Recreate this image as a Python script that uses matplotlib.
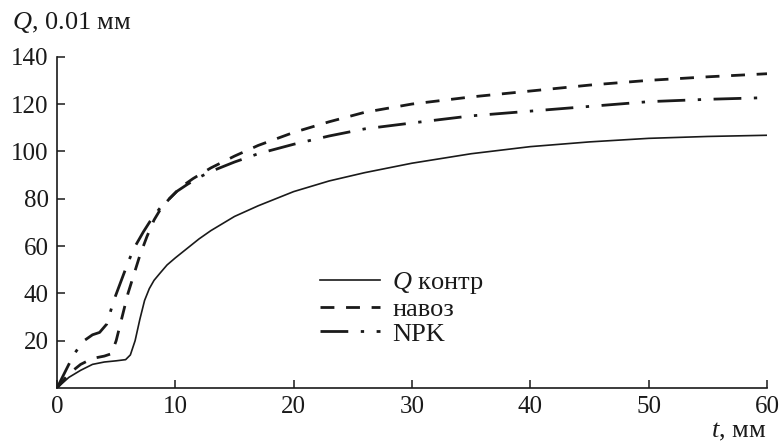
import matplotlib
matplotlib.use("Agg")
import matplotlib.pyplot as plt

plt.rcParams['font.family'] = ['Liberation Serif', 'DejaVu Serif']
plt.rcParams['mathtext.fontset'] = 'custom'
plt.rcParams['mathtext.rm'] = 'Liberation Serif'
plt.rcParams['mathtext.it'] = 'Liberation Serif:italic'

ctrl_x = [0, 1, 2, 3, 4, 5, 5.8, 6.2, 6.6, 7.0, 7.4, 7.8, 8.2, 8.7, 9.3, 10, 11, 12, 13, 14, 15, 17, 20, 23, 26, 30, 35, 40, 45, 50, 55, 60]
ctrl_y = [0, 4.5, 7.5, 10, 11, 11.5, 12, 14, 20, 29, 37, 42, 45.5, 48.5, 52, 55, 59, 63, 66.5, 69.5, 72.5, 77, 83, 87.5, 91, 95, 99, 102, 104, 105.5, 106.3, 106.8]

manure_x = [0, 1, 2, 3, 4, 4.6, 5.0, 5.5, 6.0, 6.5, 7.0, 7.6, 8.2, 8.8, 9.5, 10.5, 11.5, 13, 15, 17, 20, 23, 26, 30, 35, 40, 45, 50, 55, 60]
manure_y = [0, 6, 10, 12.5, 13.5, 14.5, 20, 30, 40, 48, 56, 64, 71, 76, 80, 85, 88.5, 93, 98, 102.5, 108, 112.5, 116.5, 120, 123, 125.5, 128, 130, 131.5, 132.8]

npk_x = [0, 0.7, 1.4, 2.2, 3.0, 3.6, 4.2, 4.8, 5.4, 6.0, 6.5, 7.3, 8.0, 8.7, 9.5, 10.1, 11, 12, 13, 15, 17, 20, 23, 26, 30, 35, 40, 45, 50, 55, 60]
npk_y = [0, 7, 14, 19.7, 22.5, 23.5, 27, 37, 45, 53, 59, 66, 71.5, 76, 80, 83, 86, 89, 91.5, 95.5, 99, 103, 106.5, 109.5, 112, 115, 117, 119, 121, 122, 122.7]

labels = ['$Q$ контр', 'навоз', 'NPK']
x_ticks = [0, 10, 20, 30, 40, 50, 60]
y_ticks = [20, 40, 60, 80, 100, 120, 140]

fig = plt.figure(figsize=(7.84, 4.45), dpi=100)
ax = fig.add_axes([57/784, 0.128, 710/784, 0.8726 - 0.128])

col = '#1a1a1a'
ax.plot(ctrl_x, ctrl_y, color=col, lw=1.2, label=labels[0])
ax.plot(manure_x, manure_y, color=col, lw=2.0, dashes=(5, 4.2), label=labels[1])
ax.plot(npk_x, npk_y, color=col, lw=2.0, dashes=(10, 4.5, 1.2, 4.5), label=labels[2])

ax.set_xlim(0, 60)
ax.set_ylim(0, 140)
ax.set_xticks(x_ticks)
ax.set_yticks(y_ticks)
for s in ['top', 'right']:
    ax.spines[s].set_visible(False)
for s in ['left', 'bottom']:
    ax.spines[s].set_linewidth(1.2)
    ax.spines[s].set_color(col)
ax.tick_params(direction='in', length=6, width=1.1, color=col, labelsize=18, labelcolor=col, pad=6)

fig.text(0.015, 0.95, '$Q$, 0.01 мм', fontsize=19, color=col, ha='left', va='center')
fig.text(0.978, 0.03, '$t$, мм', fontsize=19, color=col, ha='right', va='center')

leg = ax.legend(loc='upper left', bbox_to_anchor=(0.37, 0.356), frameon=False,
                fontsize=19, handlelength=2.3, handletextpad=0.45, labelspacing=0.05,
                borderpad=0, borderaxespad=0)
for t in leg.get_texts():
    t.set_color(col)

fig.savefig('out.png', dpi=100)
